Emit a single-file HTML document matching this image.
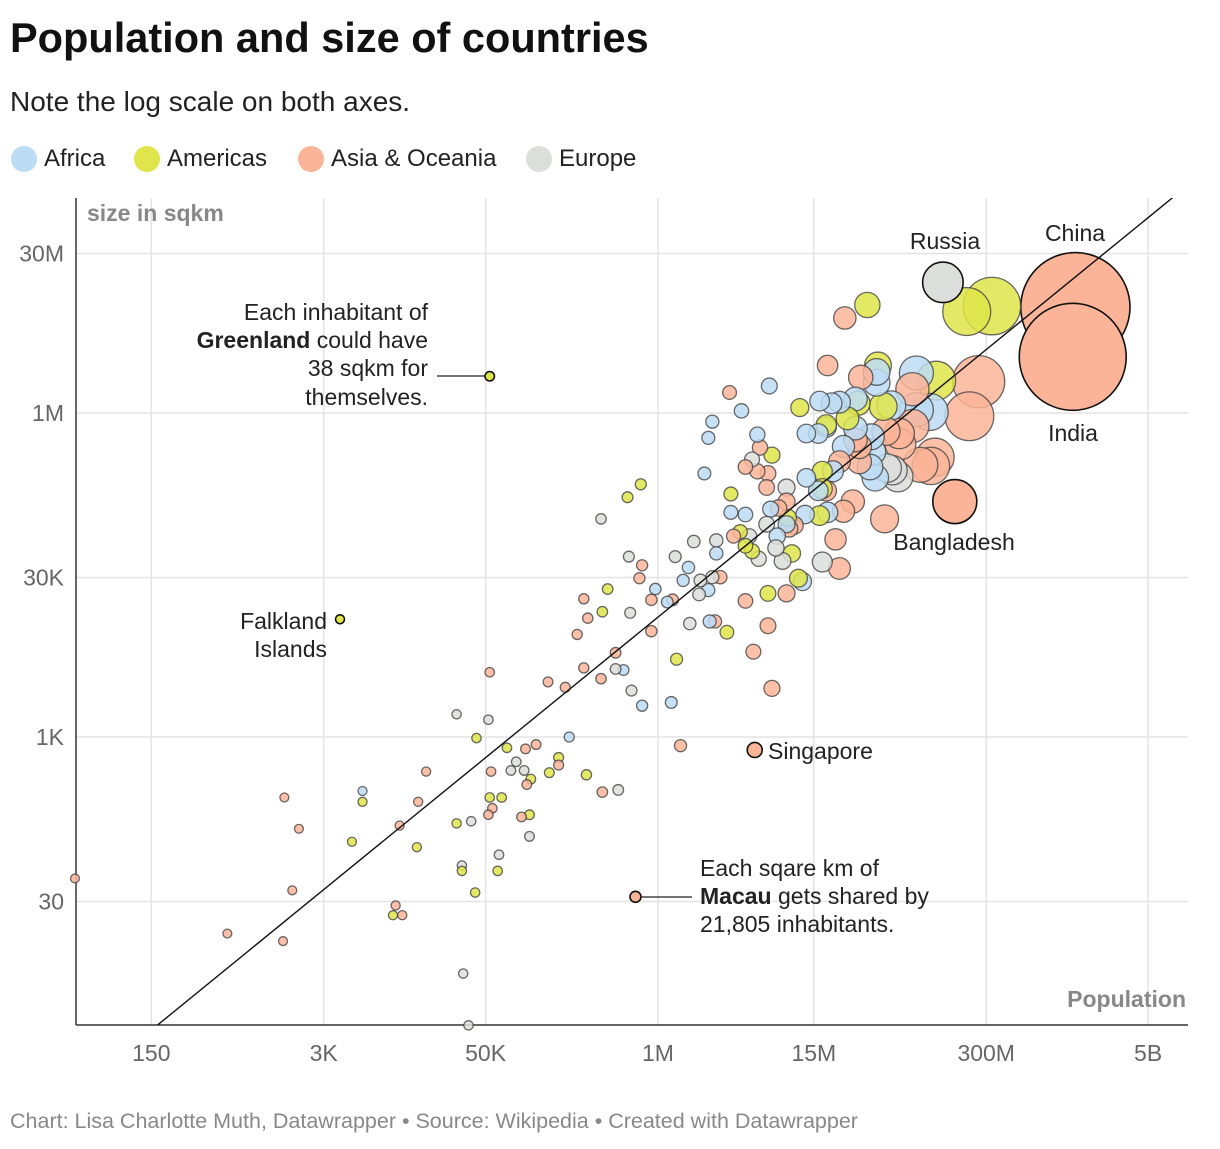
<!DOCTYPE html>
<html><head><meta charset="utf-8">
<style>
body{margin:0;background:#fff;font-family:"Liberation Sans",Roboto,sans-serif;}
svg text{font-family:"Liberation Sans",sans-serif;}
</style></head>
<body>
<svg id="chart" width="1220" height="1144" viewBox="0 0 1220 1144" xmlns="http://www.w3.org/2000/svg">
<text x="10" y="52" font-size="41.5" font-weight="bold" fill="#111">Population and size of countries</text>
<text x="10" y="111" font-size="28" fill="#222">Note the log scale on both axes.</text>
<g font-size="24" fill="#222">
<g><circle cx="24" cy="159" r="13" fill="#bcdcf5"/><text x="44" y="166">Africa</text></g>
<g><circle cx="147" cy="159" r="13" fill="#dfe54a"/><text x="167" y="166">Americas</text></g>
<g><circle cx="311" cy="159" r="13" fill="#fbb498"/><text x="331" y="166">Asia &amp; Oceania</text></g>
<g><circle cx="539" cy="159" r="13" fill="#dcdedb"/><text x="559" y="166">Europe</text></g>
</g>
<g id="grid"></g>
<g id="axes"></g>
<text x="87" y="221" font-size="23" font-weight="bold" fill="#888">size in sqkm</text>
<text x="1186" y="1007" font-size="23" font-weight="bold" fill="#888" text-anchor="end">Population</text>
<g id="marks"></g>
<g font-size="23" fill="#222">
<text x="945" y="249" text-anchor="middle">Russia</text>
<text x="1075" y="241" text-anchor="middle">China</text>
<text x="1073" y="441" text-anchor="middle">India</text>
<text x="954" y="550" text-anchor="middle">Bangladesh</text>
<text x="768" y="759">Singapore</text>
<text x="327" y="629" text-anchor="end">Falkland</text>
<text x="327" y="657" text-anchor="end">Islands</text>
<g text-anchor="end">
<text x="428" y="320">Each inhabitant of</text>
<text x="428" y="348"><tspan font-weight="bold">Greenland</tspan> could have</text>
<text x="428" y="376">38 sqkm for</text>
<text x="428" y="405">themselves.</text>
</g>
<line x1="437" y1="376" x2="485" y2="376" stroke="#222" stroke-width="1.3"/>
<g>
<text x="700" y="876">Each sqare km of</text>
<text x="700" y="904"><tspan font-weight="bold">Macau</tspan> gets shared by</text>
<text x="700" y="932">21,805 inhabitants.</text>
</g>
<line x1="641" y1="897" x2="692" y2="897" stroke="#222" stroke-width="1.3"/>
</g>
<text x="10" y="1128" font-size="21.5" fill="#888">Chart: Lisa Charlotte Muth, Datawrapper • Source: Wikipedia • Created with Datawrapper</text>
</svg>
<script>
// log10 of population and area (sqkm), region code
const logPop = [9.15,9.13,8.15,8.52,8.33,8.42,8.35,7.95,8.05,8.24,8.09,7.98,8.06,8.10,7.95,7.92,7.77,7.81,7.73,7.82,7.72,7.92,7.83,7.58,7.41,7.66,7.65,7.65,7.53,7.28,7.76,7.70,7.51,7.49,7.43,7.22,7.31,7.37,7.27,7.27,7.40,7.49,7.49,7.61,7.62,7.52,7.52,7.60,7.64,7.71,7.47,7.40,7.34,7.37,7.24,7.27,7.21,7.32,7.37,7.24,7.24,7.12,7.28,7.22,7.11,7.12,7.21,7.07,6.84,6.63,6.54,6.41,6.38,6.75,6.77,6.86,6.71,6.75,6.66,6.83,6.97,6.35,6.55,6.55,6.66,6.82,6.91,6.97,6.98,7.03,6.99,6.85,6.82,6.90,6.69,6.62,6.57,6.66,6.71,6.76,6.89,7.01,6.97,7.06,7.09,6.94,6.44,6.44,6.27,6.13,6.23,6.32,6.41,6.47,6.38,6.31,6.19,6.11,6.07,5.98,5.95,5.86,5.88,5.78,5.87,5.77,5.57,5.62,5.58,5.47,5.44,5.39,5.79,5.95,6.24,6.39,6.43,6.52,6.83,6.97,6.66,6.83,6.72,6.86,5.68,5.68,5.74,5.44,5.57,5.80,5.88,6.10,6.14,5.17,5.30,6.17,6.73,4.73,3.60,4.73,4.48,4.72,4.63,4.86,5.33,5.08,5.00,5.25,5.25,4.93,4.89,4.99,4.74,5.04,5.01,5.18,5.46,5.58,5.70,4.73,4.82,4.72,4.75,4.97,4.48,4.59,5.03,5.03,4.80,4.79,4.52,4.52,4.62,4.25,4.19,4.05,4.18,3.77,3.77,3.69,3.18,3.29,3.24,4.02,4.00,4.07,2.75,3.17,1.60,4.53,4.57,5.83];
const logArea = [6.98,6.52,7.21,6.99,6.94,6.29,5.97,6.03,6.01,5.18,5.59,5.52,5.51,6.30,6.37,6.22,5.47,5.41,5.49,5.81,5.83,5.88,5.71,7.00,6.88,6.44,6.28,6.38,6.33,6.44,6.07,6.06,6.09,6.13,5.95,6.11,6.09,6.10,5.87,5.89,5.69,5.75,5.86,5.78,5.64,5.55,5.69,5.50,5.40,5.02,5.18,5.09,4.83,4.56,4.62,5.28,5.28,5.46,5.55,5.46,5.30,5.40,5.08,5.05,5.06,5.81,5.81,6.05,6.25,6.02,6.19,5.92,5.77,5.80,5.68,5.61,5.57,5.46,5.50,5.44,5.31,5.44,5.25,5.08,5.06,5.31,5.12,5.18,5.03,4.96,4.93,5.11,4.97,4.86,4.86,4.90,4.86,4.77,4.72,4.65,4.75,4.70,4.97,4.47,4.44,4.63,4.82,4.70,4.81,4.67,4.57,4.45,4.48,4.48,4.36,4.32,4.45,4.27,4.25,4.37,4.27,4.47,4.59,4.67,5.34,5.22,5.02,4.37,4.16,4.10,4.28,3.95,4.15,3.98,4.05,4.07,4.07,3.97,4.33,4.33,4.26,4.03,3.79,3.45,3.78,3.63,3.62,3.64,3.54,3.43,3.29,3.32,3.72,3.51,3.46,2.92,2.88,6.34,4.09,3.60,3.21,3.16,2.99,2.90,3.00,2.93,2.89,2.81,2.74,2.77,2.69,2.69,2.68,2.61,2.56,2.67,2.65,2.49,2.51,2.44,2.44,2.28,2.34,2.26,2.20,2.22,2.28,2.08,1.91,1.76,1.81,1.76,1.56,2.68,2.40,2.18,1.98,2.50,2.40,2.03,2.44,2.15,1.58,1.44,1.35,1.35,1.18,1.11,1.69,0.81,0.33,1.52];
const regions = ("SSEAASSFFS"+"SSSAFSEEES"+"SSSASAFFSS"+"FAAFAFFFFA"+"FSFFFSSFFS"+"SSSSESFFSA"+"AFFAFFFAFF"+"SFFFSAESSS"+"EFAFFSSSAS"+"SFEFEASAAE"+"EAFAFEEFEE"+"FEESFEFSFF"+"SSSEAAEAAS"+"SSESEFSAAS"+"SSSSSEFSSE"+"FFASSSSAAS"+"EEAAFSSASE"+"EESASAASEA"+"ASSSAEAEEA"+"EAASSSAFAA"+"SSSSASSSSE"+"ES").split("");
const highlight = [0,1,2,9];
const labelled = [156,157,158,211];
const regionColors = {F:"#bcdcf5",A:"#dfe54a",S:"#fbb498",E:"#dcdedb"};
const xTicks = [Math.log10(150),Math.log10(3000),Math.log10(50000),6,Math.log10(15e6),Math.log10(3e8),Math.log10(5e9)];
const xTickLabels = ["150","3K","50K","1M","15M","300M","5B"];
const yTicks = [Math.log10(3e7),6,Math.log10(3e4),3,Math.log10(30)];
const yTickLabels = ["30M","1M","30K","1K","30"];
const lineOffset = -1.89;

const NS="http://www.w3.org/2000/svg";
const X0=76,X1=1188,Y0=198,Y1=1025;
const xs=v=>658+132.5*(v-6);
const ys=v=>413-108*(v-6);
const rs=lp=>4.4+50*Math.sqrt(Math.pow(10,lp)/1.4e9);
function mk(tag,attrs,parent){const e=document.createElementNS(NS,tag);for(const k in attrs)e.setAttribute(k,attrs[k]);parent.appendChild(e);return e;}
const grid=document.getElementById('grid'),axes=document.getElementById('axes'),marks=document.getElementById('marks');
xTicks.forEach((t,i)=>{
  const l=mk('line',{x1:xs(t),x2:xs(t),y1:Y0,y2:Y1,stroke:'#e3e3e3','stroke-width':1.5},grid);
  
  
  const tx=mk('text',{x:xs(t),y:1061,'font-size':23,fill:'#666','text-anchor':'middle'},axes);
  tx.textContent=xTickLabels[i];
  
  
});
yTicks.forEach((t,i)=>{
  const l=mk('line',{x1:X0,x2:X1,y1:ys(t),y2:ys(t),stroke:'#e3e3e3','stroke-width':1.5},grid);
  
  
  const tx=mk('text',{x:64,y:ys(t)+8,'font-size':23,fill:'#666','text-anchor':'end'},axes);
  tx.textContent=yTickLabels[i];
  
  
});
const ax1=mk('line',{x1:X0,x2:X1,y1:Y1,y2:Y1,stroke:'#333','stroke-width':1.5},axes);


const ax2=mk('line',{x1:X0,x2:X0,y1:Y0,y2:Y1,stroke:'#333','stroke-width':1.5},axes);


const defs=mk('defs',{},marks);
const cp=mk('clipPath',{id:'plotclip'},defs);
mk('rect',{x:X0,y:Y0,width:X1-X0,height:Y1-Y0},cp);
const idx=logPop.map((_,i)=>i).sort((a,b)=>logPop[b]-logPop[a]);
idx.forEach(i=>{
  const hl=highlight.includes(i)||labelled.includes(i);
  const c=mk('circle',{cx:xs(logPop[i]),cy:ys(logArea[i]),r:rs(logPop[i]),fill:regionColors[regions[i]]||'#fbb498','fill-opacity':hl?1:0.85,stroke:hl?'#111':'#444','stroke-opacity':hl?1:0.8,'stroke-width':hl?1.6:1.3},marks);
  
  
});
const dl=mk('line',{x1:xs(1.4),y1:ys(1.4+lineOffset),x2:xs(10.2),y2:ys(10.2+lineOffset),stroke:'#111','stroke-width':1.4,'clip-path':'url(#plotclip)'},marks);


</script>
</body></html>
